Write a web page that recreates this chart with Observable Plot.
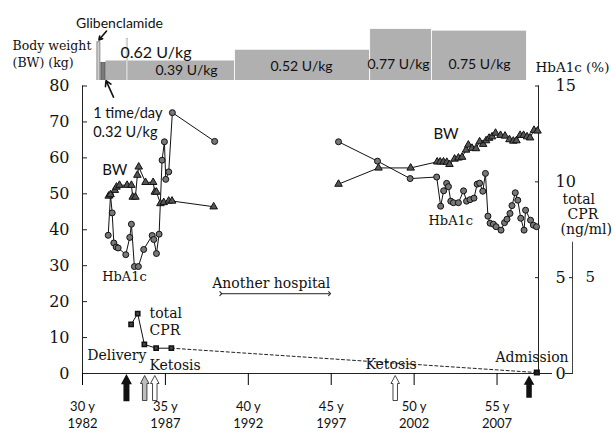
<!DOCTYPE html>
<html><head><meta charset="utf-8">
<script src="https://cdn.jsdelivr.net/npm/d3@7"></script>
<script src="https://cdn.jsdelivr.net/npm/@observablehq/plot@0.6"></script>
<style>
body{margin:0;background:#fff}
#wrap{position:relative;width:614px;height:432px;background:#fff}
#wrap svg{position:absolute;left:0;top:0}
</style></head><body><div id="wrap"></div>
<script>
// ---------- data ----------
// age (years) ; HbA1c (%) ; body weight (kg) ; total CPR (ng/ml)
const hbEarlyAge = [31.55,31.69,31.79,31.89,32.03,32.15,32.61,32.85,32.95,33.13,33.37,33.69,34.20,34.30,34.46,34.62,34.80,34.94,35.02,35.20,35.42,37.97];
const hbEarlyVal = [7.21,9.30,8.38,6.81,6.60,6.55,6.20,7.10,7.79,5.58,5.58,6.47,7.20,6.99,6.26,7.27,11.13,12.09,10.13,10.52,13.61,12.11];
const bwEarlyAge = [31.58,31.69,31.95,32.05,32.23,32.69,32.95,33.03,33.19,33.31,33.39,33.80,34.26,34.36,34.46,34.70,34.90,35.20,35.40,37.91];
const bwEarlyVal = [49.4,49.8,51.0,51.9,52.4,52.4,52.4,49.1,49.1,55.2,57.5,53.2,53.2,50.5,50.5,47.3,47.6,48.0,48.0,46.4];
const hbLateAge = [45.44,47.79,49.76,51.36,51.60,51.78,51.96,52.07,52.21,52.37,52.67,52.98,53.16,53.37,53.61,53.80,53.95,54.14,54.30,54.45,54.58,54.78,54.94,55.24,55.45,55.60,55.78,55.90,56.10,56.25,56.43,56.63,56.72,57.02,57.19,57.38];
const hbLateVal = [12.09,11.08,10.17,10.25,8.73,9.53,9.92,9.75,8.99,8.91,8.91,9.53,8.99,9.07,9.15,9.88,9.93,9.51,10.44,8.21,7.84,7.79,7.66,7.48,7.87,8.05,8.35,8.76,9.43,9.04,8.10,7.48,8.52,8.00,7.74,7.66];
const bwLateAge = [45.44,47.85,49.79,51.39,51.57,51.77,51.97,52.13,52.44,52.67,52.89,53.13,53.27,53.49,53.73,53.95,54.16,54.34,54.52,54.70,54.91,55.21,55.48,55.75,55.98,56.17,56.39,56.60,56.81,56.99,57.23,57.44];
const bwLateVal = [52.7,57.2,57.2,58.9,58.9,58.9,58.8,58.2,59.7,60.0,60.2,62.2,63.6,62.7,62.6,64.5,63.8,64.8,65.5,65.9,66.9,66.3,66.1,65.1,64.7,64.8,66.3,66.3,65.9,65.6,67.7,67.5];
const cprAge = [32.93,33.33,33.73,34.44,35.36];
const cprVal = [2.56,3.12,1.52,1.32,1.32];
const cprAdmissionAge = 57.40, cprAdmissionVal = 0.05;

// insulin regimen (top band)
const insulinStart = [31.39,39.20,47.35,51.08];
const insulinEnd   = [39.20,47.35,51.08,56.80];
const insulinDose  = [0.39,0.52,0.77,0.75];
const insulinLabel = ["0.39 U/kg","0.52 U/kg","0.77 U/kg","0.75 U/kg"];
const onceDailyStart = 31.14, onceDailyEnd = 31.39, onceDailyDose = 0.36;
const spikeStart = 32.66, spikeEnd = 32.76, spikeDose = 0.65;
const gliStart = 30.90, gliEnd = 31.08, gliLevel = 0.61;

// events under the time axis
const eventAge  = [32.65,33.75,34.36,48.86,56.93];
const eventKind = ["delivery","ketosis-grey","ketosis","ketosis","admission"];

// axis ticks
const ageTicks = [30,35,40,45,50,55];
const birthYearOffset = 1952;
const bwTicks = [0,10,20,30,40,50,60,70,80];
const hbTicks = [0,5,10,15];
const cprTicks = [5];

// ---------- layout ----------
const W = 614, H = 432, ML = 82, MR = 76, MT = 85.5, MB = 59;
const K = 80/15;  // HbA1c / CPR units -> kg axis units
const SERIF = "'DejaVu Serif', serif";
const SANS = "Lato, 'Open Sans', sans-serif";

const zipAV = (a, v) => a.map((x, i) => ({age: x, v: v[i]}));
const hbEarly = zipAV(hbEarlyAge, hbEarlyVal), hbLate = zipAV(hbLateAge, hbLateVal);
const bwEarly = zipAV(bwEarlyAge, bwEarlyVal), bwLate = zipAV(bwLateAge, bwLateVal);
const cpr = zipAV(cprAge, cprVal);
const cprDash = [cpr[cpr.length-1], {age: cprAdmissionAge, v: cprAdmissionVal}];
const events = eventAge.map((a, i) => ({age: a, kind: eventKind[i]}));
const insulin = insulinStart.map((s, i) => ({s, e: insulinEnd[i], dose: insulinDose[i], label: insulinLabel[i]}));

function label(txt, px, py, o = {}) {
  return Plot.text([txt], {text: d => d, frameAnchor: "top-left", dx: px - ML, dy: py - MT,
    textAnchor: o.anchor || "start", lineAnchor: "middle",
    fontFamily: o.font || SERIF, fontSize: o.size || 14, fill: "#111"});
}
function blockArrow(L, shaftW, headW, headL) {
  return {draw(ctx) {
    const t = -L/2, b = L/2, hb = t + headL;
    ctx.moveTo(-shaftW/2, b); ctx.lineTo(-shaftW/2, hb); ctx.lineTo(-headW/2, hb);
    ctx.lineTo(0, t); ctx.lineTo(headW/2, hb); ctx.lineTo(shaftW/2, hb);
    ctx.lineTo(shaftW/2, b); ctx.closePath();
  }};
}
const arrowLong = blockArrow(25, 4.5, 8.5, 8);
const arrowShort = blockArrow(20, 4, 8, 7);

// ---------- top band plot (insulin) ----------
const topPlot = Plot.plot({
  width: W, height: 86, marginLeft: ML, marginRight: MR, marginTop: 26, marginBottom: 6,
  x: {domain: [30, 57.5], axis: null}, y: {domain: [0.15, 0.8], axis: null},
  style: {background: "transparent"},
  marks: [
    Plot.rect(insulin, {x1: "s", x2: "e", y1: 0, y2: "dose", fill: "#b0b0b0", stroke: "#fff", strokeWidth: 0.8, clip: true}),
    Plot.rect([0], {x1: gliStart, x2: gliEnd, y1: 0, y2: gliLevel, fill: "#cfcfcf", stroke: "#666", strokeWidth: 0.7, clip: true}),
    Plot.rect([0], {x1: onceDailyStart, x2: onceDailyEnd, y1: 0, y2: onceDailyDose, fill: "#7a7a7a", stroke: "#444", strokeWidth: 0.7, clip: true}),
    Plot.rect([0], {x1: spikeStart, x2: spikeEnd, y1: 0, y2: spikeDose, fill: "#f4f4f4", stroke: "#aaa", strokeWidth: 0.5, clip: true})
  ]
});

// ---------- main plot ----------
const dotHb = {x: "age", y: d => d.v * K, r: 3, fill: "#777", stroke: "#111", strokeWidth: 1};
const dotBw = {x: "age", y: "v", r: 2.8, symbol: "triangle", fill: "#555", stroke: "#111", strokeWidth: 1};
const axisText = {fontFamily: SERIF, fontSize: 16, fill: "#111", label: null, tickSize: 0};
const tickOnly = {tickFormat: () => "", label: null, stroke: "#222"};
const mainPlot = Plot.plot({
  width: W, height: H, marginLeft: ML, marginRight: MR, marginTop: MT, marginBottom: MB,
  x: {domain: [30, 57.5]}, y: {domain: [0, 80]},
  style: {background: "transparent", overflow: "visible"},
  marks: [
    // axes lines
    Plot.ruleX([30], {y1: 0, y2: 80, stroke: "#222"}),
    Plot.ruleX([57.5], {y1: 0, y2: 80, stroke: "#222"}),
    Plot.ruleX([57.5], {y1: 0, y2: 6.85 * K, dx: 34, stroke: "#444"}),
    Plot.ruleY([0], {x1: 30, x2: 57.5, stroke: "#222"}),
    // left BW axis: inward ticks + labels
    Plot.axisY({anchor: "left", ticks: bwTicks, tickSize: 5, dx: 5, ...tickOnly}),
    Plot.axisY({anchor: "left", ticks: bwTicks, tickPadding: 13, ...axisText}),
    // right HbA1c axis
    Plot.axisY({anchor: "right", ticks: hbTicks.map(v => v * K), tickSize: 4, dx: -4, ...tickOnly}),
    Plot.axisY({anchor: "right", ticks: [0], tickSize: 13, ...tickOnly}),
    Plot.axisY({anchor: "right", ticks: hbTicks.map(v => v * K), tickFormat: d => String(Math.round(d / K)),
      tickPadding: 17, ...axisText}),
    // CPR axis
    Plot.axisY({anchor: "right", ticks: cprTicks.map(v => v * K), tickSize: 4, dx: 30, ...tickOnly}),
    Plot.axisY({anchor: "right", ticks: [0], tickSize: 8, dx: 26, ...tickOnly}),
    Plot.axisY({anchor: "right", ticks: cprTicks.map(v => v * K), tickFormat: d => String(Math.round(d / K)),
      tickPadding: 13, dx: 34, ...axisText, fontSize: 15}),
    // time axis
    Plot.axisX({ticks: ageTicks, tickSize: 12, tickPadding: 13.5, label: null,
      tickFormat: d => `${d} y\n${d + birthYearOffset}`, fontFamily: SANS, fontSize: 13, lineHeight: 1.3, fill: "#111"}),

    // series
    Plot.line(hbEarly, {x: "age", y: d => d.v * K, stroke: "#111", strokeWidth: 1}),
    Plot.line(hbLate, {x: "age", y: d => d.v * K, stroke: "#111", strokeWidth: 1}),
    Plot.line(bwEarly, {x: "age", y: "v", stroke: "#111", strokeWidth: 1}),
    Plot.line(bwLate, {x: "age", y: "v", stroke: "#111", strokeWidth: 1}),
    Plot.line(cpr, {x: "age", y: d => d.v * K, stroke: "#111", strokeWidth: 1}),
    Plot.line(cprDash, {x: "age", y: d => d.v * K, stroke: "#222", strokeWidth: 1, strokeDasharray: "3,2.5"}),
    Plot.dot(hbEarly, dotHb), Plot.dot(hbLate, dotHb),
    Plot.dot(bwEarly, dotBw), Plot.dot(bwLate, dotBw),
    Plot.dot(cpr, {x: "age", y: d => d.v * K, r: 2.4, symbol: "square", fill: "#444", stroke: "#111"}),
    Plot.dot([cprDash[1]], {x: "age", y: d => d.v * K, r: 2.6, symbol: "square", fill: "#222", stroke: "#111"}),

    // event arrows under the axis
    Plot.dot(events.filter(d => d.kind === "delivery"), {x: "age", y: 0, dy: 14.5, symbol: arrowLong, fill: "#111", stroke: "#111"}),
    Plot.dot(events.filter(d => d.kind === "ketosis-grey"), {x: "age", y: 0, dy: 14.5, symbol: arrowLong, fill: "#bdbdbd", stroke: "#333", strokeWidth: 0.9}),
    Plot.dot(events.filter(d => d.kind === "ketosis"), {x: "age", y: 0, dy: 14.5, symbol: arrowLong, fill: "#fff", stroke: "#333", strokeWidth: 0.9}),
    Plot.dot(events.filter(d => d.kind === "admission"), {x: "age", y: 0, dy: 13.5, symbol: arrowShort, fill: "#111", stroke: "#111"}),

    // annotation arrows
    Plot.link([0], {x1: 38.34, x2: 44.90, y1: 22.2, y2: 22.2, markerStart: "arrow", markerEnd: "arrow", stroke: "#222", strokeWidth: 1}),
    Plot.arrow([0], {x1: 31.45, y1: 95.3, x2: 30.99, y2: 92.8, headLength: 5, stroke: "#111", strokeWidth: 1.6}),
    Plot.arrow([0], {x1: 31.87, y1: 76.9, x2: 31.42, y2: 81.5, headLength: 6, stroke: "#111", strokeWidth: 1.6}),

    // texts
    label("Glibenclamide", 119, 23.5, {font: SANS, size: 14, anchor: "middle"}),
    label("Body weight", 12, 45, {size: 12.5}),
    label("(BW) (kg)", 12, 62, {size: 12.5}),
    label("0.62 U/kg", 120, 52, {font: SANS, size: 16}),
    ...insulin.map((d, i) => label(d.label, [155, 270, 367, 448][i], [70, 65.7, 64.3, 64][i], {font: SANS, size: 14})),
    label("HbA1c (%)", 535, 67.5, {size: 13.5}),
    label("1 time/day", 92.7, 113, {font: SANS, size: 14.5}),
    label("0.32 U/kg", 92.7, 131.7, {font: SANS, size: 14.5}),
    label("BW", 101.7, 170, {font: SANS, size: 15}),
    label("HbA1c", 101.7, 276.7, {size: 13}),
    label("total", 149, 312.7),
    label("CPR", 149, 330),
    label("Delivery", 86.7, 355),
    label("Ketosis", 149, 365),
    label("Another hospital", 211.7, 282.7),
    label("Ketosis", 365, 364.3),
    label("Admission", 495, 356.7),
    label("BW", 433, 133.3, {font: SANS, size: 15}),
    label("HbA1c", 428, 220, {size: 13}),
    label("total", 562, 199),
    label("CPR", 567, 214.3),
    label("(ng/ml)", 560, 229.3)
  ]
});

const wrap = document.getElementById("wrap");
wrap.appendChild(topPlot);
wrap.appendChild(mainPlot);
</script></body></html>
